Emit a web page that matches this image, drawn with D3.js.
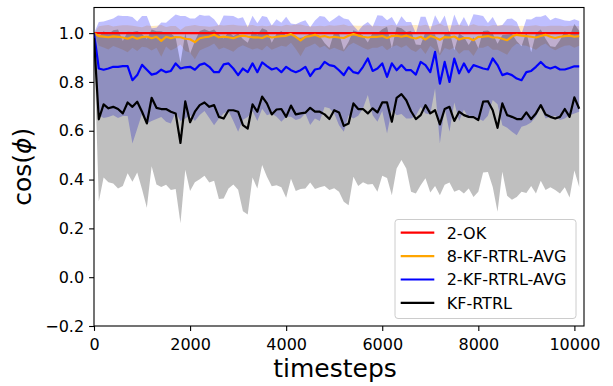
<!DOCTYPE html>
<html>
<head>
<meta charset="utf-8">
<script src="https://cdnjs.cloudflare.com/ajax/libs/d3/7.8.5/d3.min.js"></script>
<style>
  body { margin: 0; background: #fff; }
  svg { display: block; font-family: "DejaVu Sans", sans-serif; }
</style>
</head>
<body>
<div id="chart"></div>
<script>

// Timesteps (x values).
var timesteps = [
  0, 100, 200, 300, 400, 500, 600, 700, 800, 900,
  1000, 1100, 1200, 1300, 1400, 1500, 1600, 1700, 1800, 1900,
  2000, 2100, 2200, 2300, 2400, 2500, 2600, 2700, 2800, 2900,
  3000, 3100, 3200, 3300, 3400, 3500, 3600, 3700, 3800, 3900,
  4000, 4100, 4200, 4300, 4400, 4500, 4600, 4700, 4800, 4900,
  5000, 5100, 5200, 5300, 5400, 5500, 5600, 5700, 5800, 5900,
  6000, 6100, 6200, 6300, 6400, 6500, 6600, 6700, 6800, 6900,
  7000, 7100, 7200, 7300, 7400, 7500, 7600, 7700, 7800, 7900,
  8000, 8100, 8200, 8300, 8400, 8500, 8600, 8700, 8800, 8900,
  9000, 9100, 9200, 9300, 9400, 9500, 9600, 9700, 9800, 9900,
  10000, 10100
];

// 2-OK mean.
var okMean = [
  1, 1, 1, 1, 1, 1, 1, 1, 1, 1,
  1, 1, 1, 1, 1, 1, 1, 1, 1, 1,
  1, 1, 1, 1, 1, 1, 1, 1, 1, 1,
  1, 1, 1, 1, 1, 1, 1, 1, 1, 1,
  1, 1, 1, 1, 1, 1, 1, 1, 1, 1,
  1, 1, 1, 1, 1, 1, 1, 1, 1, 1,
  1, 1, 1, 1, 1, 1, 1, 1, 1, 1,
  1, 1, 1, 1, 1, 1, 1, 1, 1, 1,
  1, 1, 1, 1, 1, 1, 1, 1, 1, 1,
  1, 1, 1, 1, 1, 1, 1, 1, 1, 1,
  1, 1
];

// 8-KF-RTRL-AVG mean and std.
var kf8Mean = [
  1.0, 0.988, 0.986, 0.983, 0.987, 0.985, 0.982, 0.977, 0.985, 0.977,
  0.984, 0.986, 0.979, 0.985, 0.968, 0.985, 0.979, 0.984, 0.983, 0.977,
  0.975, 0.963, 0.979, 0.983, 0.986, 0.993, 0.983, 0.986, 0.983, 0.979,
  0.986, 0.99, 0.986, 0.983, 0.983, 0.98, 0.988, 0.982, 0.985, 0.988,
  0.989, 0.996, 0.985, 0.97, 0.985, 0.988, 0.993, 0.985, 0.988, 0.982,
  0.985, 0.982, 0.98, 0.989, 0.996, 0.99, 0.985, 0.982, 0.985, 0.985,
  0.988, 0.98, 0.988, 0.99, 0.985, 0.99, 0.982, 0.978, 0.985, 0.974,
  0.988, 0.982, 0.973, 0.984, 0.982, 0.986, 0.974, 0.98, 0.98, 0.971,
  0.985, 0.985, 0.988, 0.982, 0.982, 0.977, 0.971, 0.986, 0.993, 0.99,
  0.988, 0.985, 0.982, 0.988, 0.993, 0.985, 0.98, 0.985, 0.988, 0.99,
  0.985, 0.988
];
var kf8Std = [
  0.0, 0.04, 0.045, 0.05, 0.04, 0.045, 0.05, 0.055, 0.045, 0.05,
  0.04, 0.045, 0.05, 0.045, 0.065, 0.04, 0.05, 0.045, 0.03, 0.05,
  0.055, 0.07, 0.05, 0.045, 0.04, 0.035, 0.05, 0.045, 0.05, 0.055,
  0.045, 0.04, 0.045, 0.05, 0.045, 0.05, 0.04, 0.05, 0.045, 0.04,
  0.045, 0.035, 0.05, 0.065, 0.045, 0.04, 0.035, 0.045, 0.04, 0.05,
  0.045, 0.05, 0.055, 0.04, 0.035, 0.04, 0.045, 0.05, 0.045, 0.045,
  0.04, 0.05, 0.045, 0.04, 0.045, 0.04, 0.05, 0.055, 0.045, 0.06,
  0.04, 0.05, 0.065, 0.045, 0.05, 0.045, 0.06, 0.05, 0.05, 0.065,
  0.045, 0.045, 0.04, 0.05, 0.05, 0.055, 0.06, 0.045, 0.035, 0.04,
  0.04, 0.045, 0.05, 0.04, 0.035, 0.045, 0.05, 0.045, 0.04, 0.04,
  0.045, 0.04
];

// 2-KF-RTRL-AVG mean and std.
var kf2Mean = [
  1.0, 0.855, 0.85, 0.855, 0.862, 0.862, 0.865, 0.865, 0.807, 0.828,
  0.87, 0.85, 0.83, 0.835, 0.85, 0.84, 0.845, 0.876, 0.855, 0.86,
  0.862, 0.85, 0.87, 0.876, 0.862, 0.84, 0.84, 0.872, 0.876, 0.855,
  0.828, 0.855, 0.84, 0.876, 0.84, 0.88, 0.865, 0.851, 0.857, 0.84,
  0.862, 0.848, 0.84, 0.848, 0.862, 0.824, 0.851, 0.855, 0.882, 0.869,
  0.865, 0.848, 0.828, 0.86, 0.84, 0.835, 0.862, 0.896, 0.845, 0.855,
  0.876, 0.821, 0.876, 0.848, 0.869, 0.848, 0.848, 0.83, 0.882, 0.869,
  0.84, 0.923, 0.793, 0.882, 0.80, 0.896, 0.835, 0.876, 0.84, 0.869,
  0.862, 0.855, 0.851, 0.896, 0.869, 0.828, 0.835, 0.828, 0.814, 0.807,
  0.84, 0.845, 0.862, 0.882, 0.862, 0.855, 0.862, 0.851, 0.851, 0.857,
  0.864, 0.864
];
var kf2Std = [
  0.0, 0.191, 0.198, 0.199, 0.198, 0.21, 0.205, 0.205, 0.259, 0.22,
  0.2, 0.22, 0.19, 0.187, 0.194, 0.203, 0.215, 0.2, 0.215, 0.21,
  0.198, 0.21, 0.205, 0.195, 0.21, 0.217, 0.19, 0.2, 0.195, 0.215,
  0.232, 0.21, 0.184, 0.195, 0.2, 0.19, 0.201, 0.18, 0.2, 0.203,
  0.205, 0.191, 0.196, 0.198, 0.191, 0.2, 0.201, 0.215, 0.185, 0.177,
  0.194, 0.225, 0.232, 0.196, 0.19, 0.174, 0.17, 0.15, 0.181, 0.218,
  0.195, 0.232, 0.19, 0.184, 0.2, 0.198, 0.198, 0.169, 0.185, 0.198,
  0.172, 0.15, 0.245, 0.19, 0.204, 0.18, 0.195, 0.19, 0.187, 0.208,
  0.212, 0.215, 0.19, 0.17, 0.16, 0.205, 0.223, 0.232, 0.232, 0.191,
  0.217, 0.211, 0.205, 0.185, 0.212, 0.198, 0.201, 0.207, 0.201, 0.193,
  0.193, 0.186
];

// KF-RTRL mean and std.
var kfMean = [
  0.98, 0.647, 0.708, 0.692, 0.698, 0.689, 0.671, 0.716, 0.698, 0.719,
  0.678, 0.63, 0.735, 0.694, 0.689, 0.689, 0.678, 0.671, 0.55, 0.72,
  0.635, 0.678, 0.705, 0.716, 0.698, 0.705, 0.657, 0.65, 0.684, 0.684,
  0.678, 0.623, 0.609, 0.708, 0.678, 0.74, 0.712, 0.667, 0.687, 0.689,
  0.657, 0.703, 0.667, 0.671, 0.674, 0.694, 0.678, 0.678, 0.667, 0.648,
  0.684, 0.675, 0.62, 0.63, 0.712, 0.689, 0.689, 0.671, 0.692, 0.675,
  0.716, 0.716, 0.637, 0.735, 0.75, 0.725, 0.68, 0.648, 0.664, 0.705,
  0.671, 0.684, 0.626, 0.689, 0.698, 0.64, 0.678, 0.664, 0.657, 0.656,
  0.644, 0.719, 0.721, 0.684, 0.612, 0.712, 0.664, 0.657, 0.648, 0.648,
  0.675, 0.648, 0.671, 0.705, 0.667, 0.657, 0.65, 0.657, 0.689, 0.657,
  0.737, 0.69
];
var kfStd = [
  0.02, 0.337, 0.30, 0.303, 0.314, 0.326, 0.297, 0.29, 0.307, 0.29,
  0.318, 0.346, 0.28, 0.314, 0.319, 0.31, 0.321, 0.31, 0.329, 0.28,
  0.282, 0.289, 0.304, 0.30, 0.31, 0.31, 0.337, 0.328, 0.321, 0.304,
  0.32, 0.353, 0.352, 0.30, 0.315, 0.28, 0.30, 0.294, 0.31, 0.32,
  0.332, 0.30, 0.314, 0.31, 0.311, 0.306, 0.317, 0.31, 0.293, 0.291,
  0.32, 0.325, 0.311, 0.335, 0.30, 0.315, 0.3, 0.291, 0.31, 0.325,
  0.30, 0.31, 0.301, 0.29, 0.27, 0.28, 0.33, 0.305, 0.287, 0.30,
  0.324, 0.31, 0.29, 0.31, 0.31, 0.29, 0.32, 0.321, 0.294, 0.327,
  0.294, 0.29, 0.29, 0.314, 0.344, 0.28, 0.33, 0.34, 0.319, 0.298,
  0.33, 0.274, 0.328, 0.31, 0.31, 0.289, 0.293, 0.314, 0.32, 0.33,
  0.30, 0.32
];

// Axis ticks.
var xTicks = [0, 2000, 4000, 6000, 8000, 10000];
var yTicks = [-0.2, 0.0, 0.2, 0.4, 0.6, 0.8, 1.0];

// Series, in legend order.
var series = [
  { name: '2-OK', color: 'red', mean: okMean, std: null },
  { name: '8-KF-RTRL-AVG', color: 'orange', mean: kf8Mean, std: kf8Std },
  { name: '2-KF-RTRL-AVG', color: 'blue', mean: kf2Mean, std: kf2Std },
  { name: 'KF-RTRL', color: 'black', mean: kfMean, std: kfStd }
];

// Layout.
var width = 613, height = 386;
var plot = { left: 94, right: 584, top: 7.5, bottom: 326 };
var tickFont = 16;

var svg = d3.select('#chart').append('svg')
  .attr('width', width)
  .attr('height', height);

var x = d3.scaleLinear().domain([0, 10200]).range([plot.left, plot.right]);
var y = d3.scaleLinear().domain([-0.2, 1.105]).range([plot.bottom, plot.top]);

// Clip to plot area.
svg.append('clipPath').attr('id', 'clip')
  .append('rect')
  .attr('x', plot.left).attr('y', plot.top)
  .attr('width', plot.right - plot.left)
  .attr('height', plot.bottom - plot.top);

var body = svg.append('g').attr('clip-path', 'url(#clip)');

// Std bands first (they sit under every line).
var band = function(s) {
  return d3.area()
    .x(function(d, i) { return x(timesteps[i]); })
    .y0(function(d, i) { return y(s.mean[i] - s.std[i]); })
    .y1(function(d, i) { return y(s.mean[i] + s.std[i]); });
};

series.forEach(function(s) {
  if (!s.std) return;
  body.append('path')
    .datum(s.mean)
    .attr('d', band(s))
    .attr('fill', s.color)
    .attr('fill-opacity', 0.25);
});

// Mean lines.
var line = d3.line()
  .x(function(d, i) { return x(timesteps[i]); })
  .y(function(d) { return y(d); });

series.forEach(function(s) {
  body.append('path')
    .datum(s.mean)
    .attr('d', line)
    .attr('fill', 'none')
    .attr('stroke', s.color)
    .attr('stroke-width', 2.2)
    .attr('stroke-linejoin', 'round');
});

// Axes.
var fmtY = function(d) { return d3.format('.1f')(d).replace('-', '\u2212'); };

var xAxis = svg.append('g')
  .attr('transform', 'translate(0,' + plot.bottom + ')')
  .call(d3.axisBottom(x).tickValues(xTicks).tickSize(4.9).tickPadding(8).tickFormat(d3.format('d')));

var yAxis = svg.append('g')
  .attr('transform', 'translate(' + plot.left + ',0)')
  .call(d3.axisLeft(y).tickValues(yTicks).tickSize(4.9).tickPadding(5).tickFormat(fmtY));

[xAxis, yAxis].forEach(function(a) {
  a.select('.domain').remove();
  a.selectAll('line').attr('stroke', '#000').attr('stroke-width', 1.1);
  a.selectAll('text')
    .attr('fill', '#000')
    .style('font-size', tickFont + 'px')
    .style('font-family', '"DejaVu Sans", sans-serif');
});

// Frame.
svg.append('rect')
  .attr('x', plot.left).attr('y', plot.top)
  .attr('width', plot.right - plot.left)
  .attr('height', plot.bottom - plot.top)
  .attr('fill', 'none')
  .attr('stroke', '#000')
  .attr('stroke-width', 1.1);

// Axis titles.
svg.append('text')
  .attr('x', (plot.left + plot.right) / 2 - 4)
  .attr('y', 377)
  .attr('text-anchor', 'middle')
  .style('font-size', '25px')
  .text('timesteps');

var yTitle = svg.append('text')
  .attr('transform', 'translate(31,' + ((plot.top + plot.bottom) / 2) + ') rotate(-90)')
  .attr('text-anchor', 'middle')
  .style('font-size', '25px');
yTitle.append('tspan').text('cos(');
yTitle.append('tspan').style('font-style', 'italic').text('\u03d5');
yTitle.append('tspan').text(')');

// Legend.
var legend = svg.append('g').attr('transform', 'translate(395,219.5)');

legend.append('rect')
  .attr('width', 181).attr('height', 99)
  .attr('rx', 3).attr('ry', 3)
  .attr('fill', '#fff').attr('fill-opacity', 0.8)
  .attr('stroke', '#ccc').attr('stroke-width', 1);

series.forEach(function(s, i) {
  var row = 13.2 + i * 23.4;
  legend.append('line')
    .attr('x1', 5.7).attr('x2', 39.3)
    .attr('y1', row).attr('y2', row)
    .attr('stroke', s.color).attr('stroke-width', 2.2);
  legend.append('text')
    .attr('x', 51.7).attr('y', row + 5.8)
    .style('font-size', '16px')
    .text(s.name);
});

</script>
</body>
</html>
